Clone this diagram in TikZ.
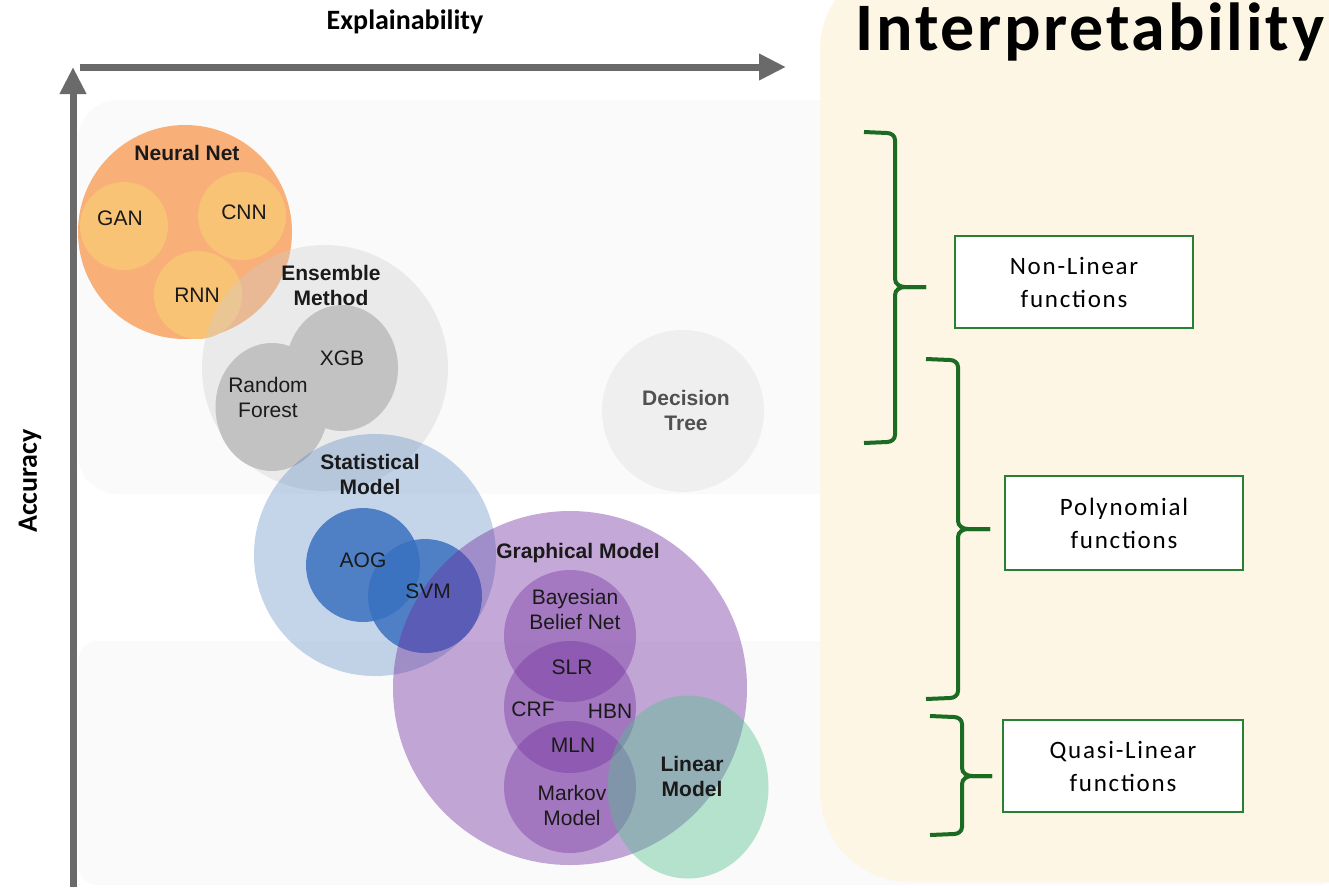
\documentclass[tikz,border=0pt]{standalone}
\usepackage{fontspec}
\setmainfont{Liberation Sans}
\newfontfamily\calibri{Carlito}
\usetikzlibrary{arrows.meta,shapes.geometric}
\definecolor{nnorange}{RGB}{248,175,120}
\definecolor{nninner}{RGB}{249,195,118}
\definecolor{ensgray}{RGB}{206,206,206}
\definecolor{treegray}{RGB}{194,194,194}
\definecolor{dtgray}{RGB}{239,239,239}
\definecolor{statblue}{RGB}{62,115,185}
\definecolor{svmblue}{RGB}{57,113,192}
\definecolor{gmpurple}{RGB}{108,39,156}
\definecolor{lmgreen}{RGB}{82,194,140}
\definecolor{panelgray}{RGB}{250,250,250}
\definecolor{interyellow}{RGB}{253,246,228}
\definecolor{axisgray}{RGB}{106,106,106}
\definecolor{bracegreen}{RGB}{27,107,35}
\definecolor{boxgreen}{RGB}{40,128,50}
\definecolor{labelgray}{RGB}{80,80,80}
\definecolor{labelblack}{RGB}{26,26,26}
\tikzset{
  model/.style={circle,inner sep=0pt,minimum size=#1},
  oval/.style 2 args={ellipse,inner sep=0pt,minimum width=#1,minimum height=#2},
  lab/.style={font=\fontsize{21}{25}\selectfont,align=center,text=labelblack,inner sep=0pt},
  blab/.style={lab,font=\fontsize{21}{25}\selectfont\bfseries},
  axis/.style={line width=7pt,axisgray,-{Triangle[length=27pt,width=25pt]}},
  funcbox/.style={draw=boxgreen,line width=2.5pt,fill=white,minimum width=238pt,
    minimum height=92pt,align=center,font=\calibri\addfontfeatures{LetterSpace=7}\fontsize{25}{33}\selectfont},
  bracket/.style={bracegreen,line width=4pt}
}
\begin{document}
\begin{tikzpicture}[x=1pt,y=-1pt]
  \useasboundingbox (0,0) rectangle (1329,887);
  \fill[white] (0,0) rectangle (1329,887);
  % panels
  \fill[panelgray,rounded corners=40pt] (78,100) rectangle (1000,494);
  \fill[panelgray,rounded corners=20pt] (78,641) rectangle (1340,885);
  \fill[interyellow,rounded corners=90pt] (820,-40) rectangle (1420,882);

  % axes
  \coordinate (origin) at (73,887);
  \coordinate (xstart) at (80,67);
  \coordinate (xend) at (786,67);
  \coordinate (yend) at (73,67);
  \draw[axis] (xstart) -- (xend);
  \draw[axis] (origin) -- (yend);
  \node[font=\calibri\bfseries\fontsize{28}{32}\selectfont] (explain) at (405,22) {Explainability};
  \node[font=\calibri\bfseries\fontsize{28}{32}\selectfont,rotate=90] (accuracy) at (30,481) {Accuracy};
  \node[font=\calibri\bfseries\addfontfeatures{LetterSpace=4}\fontsize{68}{76}\selectfont,anchor=base] (interp) at (1090,50) {Interpretability};

  % model circles
  \node[model=162pt,fill=dtgray] (dt) at (683,411) {};
  \node[model=214pt,fill=nnorange] (nn) at (185,232) {};
  \node[model=88pt,fill=nninner] (gan) at (124,226) {};
  \node[model=88pt,fill=nninner] (cnn) at (242,216) {};
  \node[model=88pt,fill=nninner] (rnn) at (198,295) {};
  \node[model=246pt,fill=ensgray,fill opacity=0.34] (ens) at (325,368) {};
  \node[oval={112pt}{126pt},fill=treegray] (xgb) at (342,368) {};
  \node[oval={113pt}{128pt},fill=treegray] (rf) at (272,407) {};
  \node[model=242pt,fill=statblue,fill opacity=0.3] (stat) at (375,555) {};
  \node[model=114pt,fill=svmblue,fill opacity=0.84] (aog) at (363,565) {};
  \node[model=114pt,fill=svmblue,fill opacity=0.84] (svm) at (425,596) {};
  \node[model=354pt,fill=gmpurple,fill opacity=0.4] (gm) at (570,688) {};
  \node[model=132pt,fill=gmpurple,fill opacity=0.36] (bbn) at (570,636) {};
  \node[model=132pt,fill=gmpurple,fill opacity=0.36] (hbn) at (570,707) {};
  \node[model=132pt,fill=gmpurple,fill opacity=0.36] (markov) at (570,787) {};
  \node[oval={161pt}{183pt},fill=lmgreen,fill opacity=0.41] (lm) at (688,787) {};

  % model labels
  \node[blab] (lnn) at (187,153) {Neural Net};
  \node[lab] (lgan) at (120,218) {GAN};
  \node[lab] (lcnn) at (244,212) {CNN};
  \node[lab] (lrnn) at (197,295) {RNN};
  \node[blab] (lens) at (331,285) {Ensemble\\Method};
  \node[lab] (lxgb) at (342,358) {XGB};
  \node[lab] (lrf) at (268,397) {Random\\Forest};
  \node[blab] (lstat) at (370,474) {Statistical\\Model};
  \node[lab] (laog) at (363,560) {AOG};
  \node[lab] (lsvm) at (428,591) {SVM};
  \node[blab] (lgm) at (578,553) {Graphical Model};
  \node[lab] (lbbn) at (575,609) {Bayesian\\Belief Net};
  \node[lab] (lslr) at (572,667) {SLR};
  \node[lab] (lcrf) at (533,709) {CRF};
  \node[lab] (lhbn) at (610,711) {HBN};
  \node[lab] (lmln) at (573,745) {MLN};
  \node[lab] (lmarkov) at (572,805) {Markov\\Model};
  \node[blab] (llm) at (692,776) {Linear\\Model};
  \node[blab,text=labelgray] (ldt) at (686,410) {Decision\\Tree};

  % function classes
  \node[funcbox] (nonlin) at (1074,282) {Non-Linear\\functions};
  \node[funcbox,minimum height=94pt] (poly) at (1124,523) {Polynomial\\functions};
  \node[funcbox,minimum width=240pt] (quasi) at (1123,766) {Quasi-Linear\\functions};
  \foreach \xa/\xv/\xt/\ya/\ym/\yb in {864/895/926/132/287/443,926/958/990/359/529/699,930/962/992/716/776/835}{
    \draw[bracket] (\xa,\ya) -- (\xv-8,\ya+1) to[out=0,in=90] (\xv,\ya+8) -- (\xv,\ym-8)
      to[out=-90,in=180] (\xv+10,\ym) -- (\xt,\ym);
    \draw[bracket] (\xt,\ym) -- (\xv+10,\ym) to[out=180,in=90] (\xv,\ym+8) -- (\xv,\yb-8)
      to[out=-90,in=0] (\xv-8,\yb-1) -- (\xa,\yb);
  }
\end{tikzpicture}
\end{document}
